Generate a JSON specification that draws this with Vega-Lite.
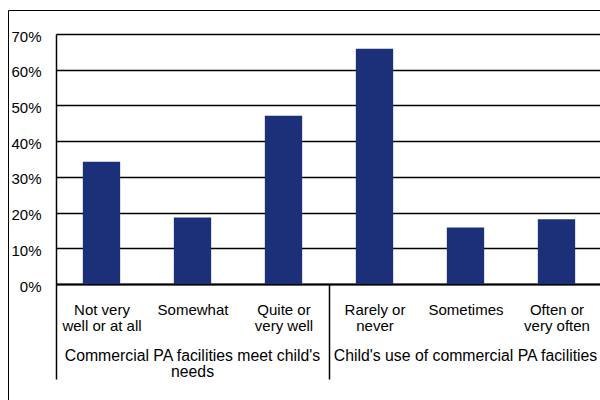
{
  "$schema": "https://vega.github.io/schema/vega-lite/v6.json",
  "width": 546,
  "height": 250,
  "autosize": {"type": "none"},
  "padding": {"left": 56, "top": 34, "right": 0, "bottom": 116},
  "background": "white",
  "config": {
    "view": {"stroke": null},
    "font": "Liberation Sans",
    "axis": {"labelFont": "Liberation Sans", "labelColor": "black"}
  },
  "data": {
    "values": [
      {"category": "Not very well or at all", "group": "Commercial PA facilities meet child's\nneeds", "share": 0.342},
      {"category": "Somewhat", "group": "Commercial PA facilities meet child's\nneeds", "share": 0.186},
      {"category": "Quite or very well", "group": "Commercial PA facilities meet child's\nneeds", "share": 0.471},
      {"category": "Rarely or never", "group": "Child's use of commercial PA facilities", "share": 0.659},
      {"category": "Sometimes", "group": "Child's use of commercial PA facilities", "share": 0.158},
      {"category": "Often or very often", "group": "Child's use of commercial PA facilities", "share": 0.181}
    ]
  },
  "encoding": {
    "x": {
      "field": "category",
      "type": "nominal",
      "sort": null,
      "scale": {"paddingInner": 0, "paddingOuter": 0},
      "axis": {
        "title": null,
        "labelAngle": 0,
        "labelFontSize": 15,
        "labelLineHeight": 16,
        "labelPadding": -77,
        "labelOverlap": false,
        "labelBound": false,
        "labelFlush": false,
        "labelLimit": 1000,
        "domainColor": "black",
        "domainWidth": 2,
        "tickBand": "extent",
        "tickSize": 95,
        "tickWidth": 1.5,
        "tickColor": {"condition": {"test": "datum.value === 'Quite or very well' || datum.extra", "value": "black"}, "value": "transparent"},
        "labelExpr": "datum.value === 'Not very well or at all' ? ['Not very', 'well or at all'] : datum.value === 'Quite or very well' ? ['Quite or', 'very well'] : datum.value === 'Rarely or never' ? ['Rarely or', 'never'] : datum.value === 'Often or very often' ? ['Often or', 'very often'] : datum.label"
      }
    }
  },
  "layer": [
    {
      "mark": {"type": "bar", "width": {"band": 0.41}},
      "encoding": {
        "y": {
          "field": "share",
          "type": "quantitative",
          "scale": {"domain": [0, 0.7], "nice": false},
          "axis": {
            "title": null,
            "format": ".0%",
            "values": [0, 0.1, 0.2, 0.3, 0.4, 0.5, 0.6, 0.7],
            "grid": true,
            "gridColor": "black",
            "gridWidth": 1.5,
            "ticks": false,
            "domainColor": "black",
            "domainWidth": 1.5,
            "labelFontSize": 15,
            "labelPadding": 15,
            "labelOffset": 2
          }
        },
        "color": {
          "datum": "bars",
          "scale": {"range": ["#1b3079"]},
          "legend": {
            "orient": "none",
            "legendX": -48,
            "legendY": -24,
            "padding": 320,
            "strokeColor": "black",
            "title": null,
            "symbolSize": 0,
            "symbolOpacity": 0,
            "labelExpr": "''"
          }
        }
      }
    },
    {
      "transform": [
        {"window": [{"op": "row_number", "as": "pos"}], "groupby": ["group"]},
        {"filter": "datum.pos === 2"}
      ],
      "mark": {"type": "text", "lineBreak": "\n", "fontSize": 15.8, "lineHeight": 16, "baseline": "alphabetic", "align": "center", "color": "black", "font": "Liberation Sans"},
      "encoding": {
        "y": {
          "datum": -0.216,
          "type": "quantitative",
          "scale": {"domain": [0, 0.7], "nice": false},
          "axis": {
            "title": null,
            "format": ".0%",
            "values": [0, 0.1, 0.2, 0.3, 0.4, 0.5, 0.6, 0.7],
            "grid": true,
            "gridColor": "black",
            "gridWidth": 1.5,
            "ticks": false,
            "domainColor": "black",
            "domainWidth": 1.5,
            "labelFontSize": 15,
            "labelPadding": 15,
            "labelOffset": 2
          }
        },
        "text": {"field": "group"}
      }
    }
  ]
}
